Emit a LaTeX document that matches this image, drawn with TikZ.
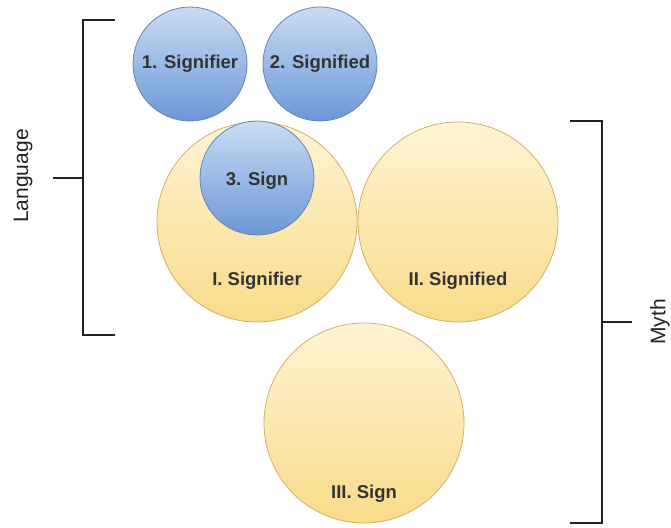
\documentclass[tikz,border=0pt]{standalone}
\usepackage{fontspec}
\setmainfont{Liberation Sans}
\usetikzlibrary{calc}
\definecolor{bluetop}{HTML}{CADCF3}
\definecolor{bluebot}{HTML}{6B97D7}
\definecolor{blueedge}{HTML}{6583B3}
\definecolor{yeltop}{HTML}{FFF2CC}
\definecolor{yelbot}{HTML}{F8D575}
\definecolor{yeledge}{HTML}{CFB068}
\definecolor{ink}{HTML}{222222}
\definecolor{labelink}{HTML}{333333}

\begin{document}
\begin{tikzpicture}[x=1pt,y=-1pt,
  bluecirc/.style={circle, draw=blueedge, line width=0.8pt,
    top color=bluetop, bottom color=bluebot,
    minimum size=114pt, inner sep=0pt},
  yelcirc/.style={circle, draw=yeledge, line width=0.8pt,
    top color=yeltop, bottom color=yelbot, fill opacity=0.85,
    minimum size=200pt, inner sep=0pt},
  lbl/.style={font=\bfseries\fontsize{18.5}{22}\selectfont, text=labelink},
  side/.style={font=\fontsize{21}{25}\selectfont, text=ink, rotate=90,
    inner sep=0pt},
  bracket/.style={draw=ink, line width=1.8pt}]

\useasboundingbox (0,0) rectangle (671,527);

% first order (language): signifier and signified
\node[bluecirc] (sr1) at (190,64) {};
\node[bluecirc] (sd2) at (320,64) {};
\node[lbl] at (sr1) {1. Signifier};
\node[lbl] at (sd2) {2. Signified};

% second order (myth)
\node[yelcirc] (srI) at (257,222) {};
\node[yelcirc] (sdII) at (458,222) {};
\node[yelcirc] (sgIII) at (364,423) {};

% the first-order sign sits inside the second-order signifier
\node[bluecirc] (sg3) at (257,178) {};
\node[lbl] at ($(sg3)+(0,3)$) {3. Sign};

\node[lbl] at ($(srI)+(0,59)$) {I. Signifier};
\node[lbl] at ($(sdII)+(0,59)$) {II. Signified};
\node[lbl] at ($(sgIII)+(0,71)$) {III. Sign};

% bracket for language
\coordinate (lt) at (115,20);
\coordinate (lb) at (115,335);
\coordinate (lm) at (83,178);
\coordinate (ltick) at (53,178);
\draw[bracket] (lt) -- (83,20) -- (83,335) -- (lb);
\draw[bracket] (lm) -- (ltick);
\node[side] (lang) at (23,176) {Language};

% bracket for myth
\coordinate (mt) at (570,121);
\coordinate (mb) at (570,523);
\coordinate (mm) at (602,322);
\coordinate (mtick) at (632,322);
\draw[bracket] (mt) -- (602,121) -- (602,523) -- (mb);
\draw[bracket] (mm) -- (mtick);
\node[side] (myth) at (660,322) {Myth};

\end{tikzpicture}
\end{document}
